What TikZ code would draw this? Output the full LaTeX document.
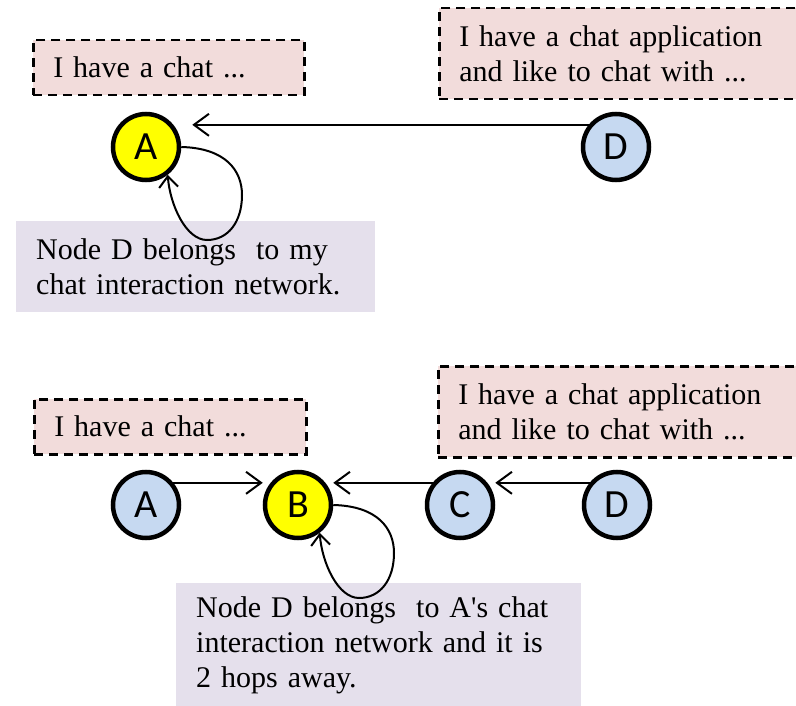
\documentclass[tikz,border=0pt]{standalone}
\usepackage{fontspec}
\setmainfont{Liberation Serif}
\newfontfamily\lblfont{Carlito}
\usetikzlibrary{arrows.meta}
\definecolor{pinkfill}{RGB}{242,220,219}
\definecolor{lilac}{RGB}{229,224,236}
\definecolor{bluefill}{RGB}{198,217,241}
\definecolor{yel}{RGB}{255,255,0}
\begin{document}
\begin{tikzpicture}[x=1pt,y=-1pt,
  vertex/.style={circle, draw=black, line width=4.5pt, minimum size=66pt, inner sep=0pt,
    font=\lblfont\fontsize{40}{40}\selectfont},
  hub/.style={vertex, fill=yel},
  peer/.style={vertex, fill=bluefill},
  saybox/.style={draw=black, fill=pinkfill, dash pattern=on 9pt off 6pt, line width=2.5pt,
    anchor=north west, inner xsep=20pt, inner ysep=0pt, align=left,
    font=\fontsize{30}{35}\selectfont},
  notebox/.style={fill=lilac, anchor=north west, inner xsep=20pt, inner ysep=0pt, align=left,
    font=\fontsize{30}{35}\selectfont},
  arr/.style={line width=2pt, -{Straight Barb[length=15pt,width=22pt]}},
  looparr/.style={line width=2pt, -{Straight Barb[length=11pt,width=19pt]}}
]
\path[use as bounding box, clip] (0,0) rectangle (796,706);

% ---------- top panel ----------
\node[saybox, minimum width=271pt, minimum height=55pt, text width=231pt] (s1) at (32,39) {I have a chat ...};
\node[saybox, minimum width=380pt, minimum height=91pt, text width=340pt] (s2) at (438,7)
  {I have a chat application\\and like to chat with ...};
\node[hub] (A1) at (146,147) {A};
\node[peer] (D1) at (616,147) {D};
\node[notebox, minimum width=359pt, minimum height=91pt, text width=319pt] (n1) at (16,221)
  {Node D belongs~ to my\\chat interaction network.};
\draw[arr, shorten >=11pt] (D1.141) -- (D1.141 -| A1.east);
\draw[looparr] (A1.east) .. controls (225,148) and (242,170) .. (242,195)
  .. controls (242,222) and (228,240) .. (207,240)
  .. controls (186,240) and (170,205) .. (A1.-52);

% ---------- bottom panel ----------
\node[saybox, minimum width=272pt, minimum height=55pt, text width=232pt] (s3) at (33,398) {I have a chat ...};
\node[saybox, minimum width=380pt, minimum height=91pt, text width=340pt] (s4) at (437,365)
  {I have a chat application\\and like to chat with ...};
\node[peer] (A2) at (146,505) {A};
\node[hub] (B2) at (298,505) {B};
\node[peer] (C2) at (460,505) {C};
\node[peer] (D2) at (617,505) {D};
\node[notebox, minimum width=405pt, minimum height=125pt, text width=365pt] (n2) at (176,583)
  {Node D belongs~ to A\textquotesingle s chat\\interaction network and it is\\2 hops away.};
\draw[arr] (A2.39) -- (A2.39 -| B2.west);
\draw[arr] (C2.141) -- (C2.141 -| B2.east);
\draw[arr] (D2.141) -- (D2.141 -| C2.east);
\draw[looparr] (B2.east) .. controls (377,506) and (394,528) .. (394,553)
  .. controls (394,580) and (380,598) .. (359,598)
  .. controls (338,598) and (322,563) .. (B2.-52);
\end{tikzpicture}
\end{document}
